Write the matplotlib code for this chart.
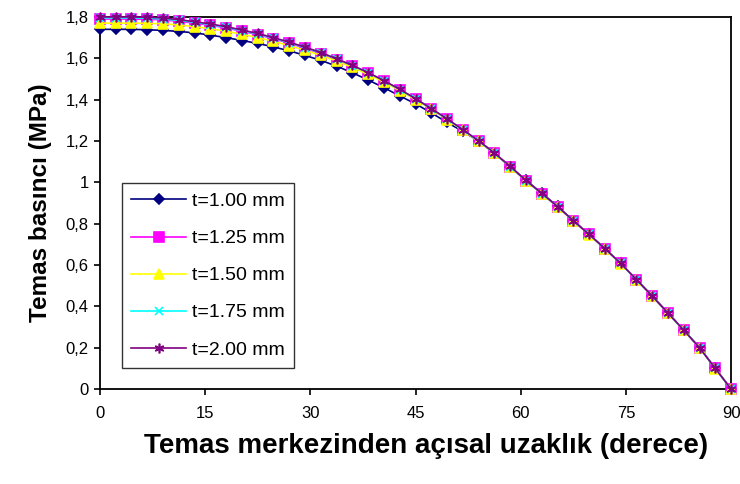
import matplotlib.pyplot as plt
from matplotlib.ticker import FuncFormatter

# ----------------------------------------------------------
# DATA
# ----------------------------------------------------------

angle = [
    0.00, 2.25, 4.50, 6.75, 9.00, 11.25, 13.50, 15.75, 18.00, 20.25,
    22.50, 24.75, 27.00, 29.25, 31.50, 33.75, 36.00, 38.25, 40.50, 42.75,
    45.00, 47.25, 49.50, 51.75, 54.00, 56.25, 58.50, 60.75, 63.00, 65.25,
    67.50, 69.75, 72.00, 74.25, 76.50, 78.75, 81.00, 83.25, 85.50, 87.75,
    90.00,
]

p_t100 = [
    1.740, 1.740, 1.740, 1.738, 1.735, 1.730, 1.723, 1.712, 1.700, 1.686,
    1.672, 1.655, 1.636, 1.614, 1.590, 1.562, 1.530, 1.495, 1.458, 1.418,
    1.380, 1.336, 1.290, 1.246, 1.200, 1.140, 1.076, 1.010, 0.948, 0.884,
    0.815, 0.748, 0.680, 0.608, 0.530, 0.450, 0.368, 0.285, 0.200, 0.100,
    0.000,
]

p_t125 = [
    1.790, 1.790, 1.790, 1.789, 1.786, 1.779, 1.770, 1.760, 1.747, 1.731,
    1.714, 1.695, 1.673, 1.649, 1.623, 1.594, 1.562, 1.528, 1.490, 1.448,
    1.403, 1.356, 1.306, 1.254, 1.200, 1.141, 1.076, 1.008, 0.946, 0.882,
    0.815, 0.748, 0.680, 0.608, 0.530, 0.450, 0.368, 0.285, 0.200, 0.100,
    0.000,
]

p_t150 = [
    1.770, 1.770, 1.770, 1.769, 1.767, 1.761, 1.753, 1.743, 1.731, 1.716,
    1.700, 1.682, 1.661, 1.639, 1.614, 1.587, 1.556, 1.522, 1.485, 1.444,
    1.400, 1.353, 1.304, 1.252, 1.198, 1.140, 1.075, 1.007, 0.945, 0.881,
    0.814, 0.747, 0.679, 0.607, 0.529, 0.449, 0.367, 0.284, 0.199, 0.099,
    0.000,
]

p_t175 = [
    1.795, 1.795, 1.795, 1.794, 1.790, 1.783, 1.774, 1.763, 1.750, 1.734,
    1.717, 1.698, 1.676, 1.652, 1.626, 1.597, 1.564, 1.530, 1.491, 1.449,
    1.404, 1.356, 1.306, 1.254, 1.200, 1.141, 1.076, 1.008, 0.946, 0.882,
    0.815, 0.748, 0.680, 0.608, 0.530, 0.450, 0.368, 0.285, 0.200, 0.100,
    0.000,
]

p_t200 = [
    1.800, 1.800, 1.800, 1.799, 1.795, 1.787, 1.777, 1.766, 1.753, 1.737,
    1.720, 1.700, 1.678, 1.654, 1.628, 1.598, 1.566, 1.531, 1.492, 1.450,
    1.405, 1.357, 1.307, 1.255, 1.201, 1.142, 1.077, 1.009, 0.947, 0.883,
    0.815, 0.748, 0.680, 0.608, 0.530, 0.450, 0.368, 0.285, 0.200, 0.100,
    0.000,
]

labels = ["t=1.00 mm", "t=1.25 mm", "t=1.50 mm", "t=1.75 mm", "t=2.00 mm"]

# ----------------------------------------------------------
# STYLE
# ----------------------------------------------------------

plt.rcParams["font.family"] = ["Liberation Sans", "DejaVu Sans"]

series = [
    (p_t100, "#000080", "D", 5),
    (p_t125, "#FF00FF", "s", 6.5),
    (p_t150, "#FFFF00", "^", 6.5),
    (p_t175, "#00FFFF", "x", 6),
    (p_t200, "#800080", (6, 2, 0), 7),
]

# ----------------------------------------------------------
# PLOT
# ----------------------------------------------------------

fig = plt.figure(figsize=(7.4, 4.84), dpi=100)
ax = fig.add_axes([0.135, 0.196, 0.853, 0.769])

for (values, color, marker, size), label in zip(series, labels):
    ax.plot(
        angle,
        values,
        color=color,
        linewidth=1.2,
        marker=marker,
        markersize=size,
        markerfacecolor=color,
        markeredgecolor=color,
        markeredgewidth=1.2,
        label=label,
        clip_on=False,
        zorder=3,
    )

ax.set_xlim(0, 90)
ax.set_ylim(0, 1.8)
ax.set_xticks([0, 15, 30, 45, 60, 75, 90])
ax.set_yticks([0, 0.2, 0.4, 0.6, 0.8, 1.0, 1.2, 1.4, 1.6, 1.8])

ax.yaxis.set_major_formatter(
    FuncFormatter(lambda v, pos: f"{v:g}".replace(".", ","))
)

ax.tick_params(
    axis="both",
    direction="out",
    length=4,
    width=1.2,
    labelsize=12,
    pad=4,
)
ax.tick_params(axis="x", pad=8)

for spine in ax.spines.values():
    spine.set_linewidth(1.3)
    spine.set_color("black")

ax.set_xlabel(
    "Temas merkezinden açısal uzaklık (derece)",
    fontsize=20,
    fontweight="bold",
    labelpad=8,
)
ax.xaxis.set_label_coords(0.517, -0.118)

ax.set_ylabel(
    "Temas basıncı (MPa)",
    fontsize=17.5,
    fontweight="bold",
    labelpad=10,
)

legend = ax.legend(
    loc="lower left",
    bbox_to_anchor=(0.019, 0.03),
    fontsize=14,
    frameon=True,
    fancybox=False,
    edgecolor="black",
    handlelength=2.8,
    handletextpad=0.3,
    labelspacing=1.0,
    borderpad=0.5,
)
legend.get_frame().set_linewidth(1.0)

fig.savefig("out.png", dpi=100, facecolor="white")
